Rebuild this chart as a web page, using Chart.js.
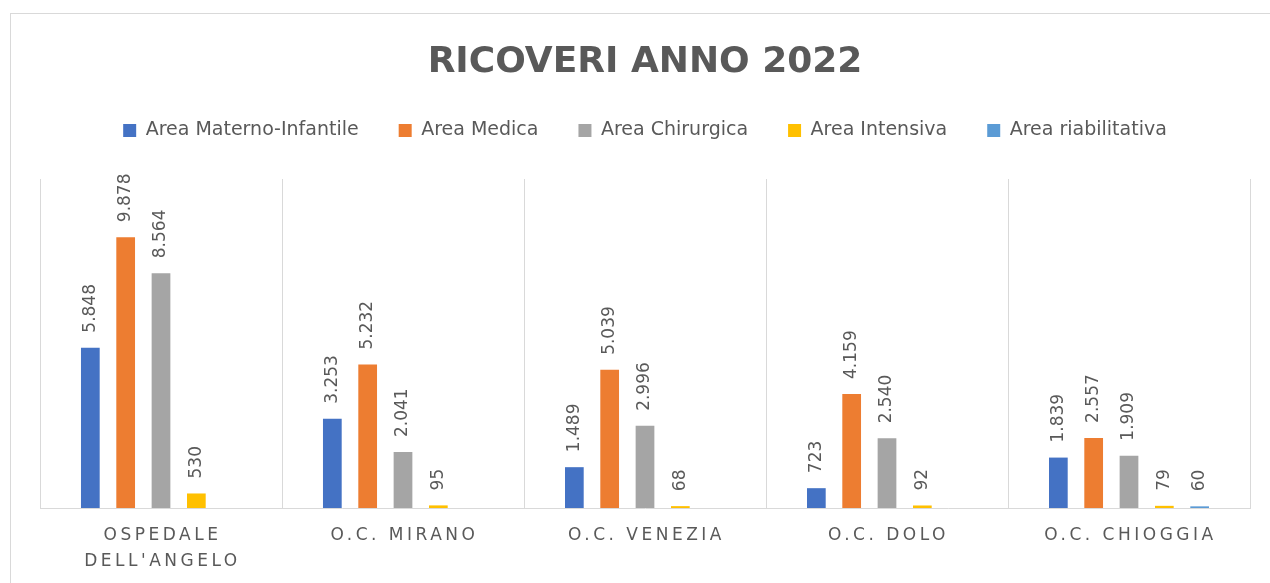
<!DOCTYPE html>
<html>
<head>
<meta charset="utf-8">
<script src="https://cdn.jsdelivr.net/npm/chart.js@4.4.0/dist/chart.umd.min.js"></script>
<style>
  html, body { margin: 0; padding: 0; background: #fff; overflow: hidden; width: 1270px; height: 583px; }
  #frame { position: absolute; left: 10px; top: 13px; width: 1300px; height: 700px; border: 1px solid #d9d9d9; }
  #wrap { position: absolute; left: 0; top: 0; width: 1270px; height: 583px; }
</style>
</head>
<body>
<div id="frame"></div>
<div id="wrap"><canvas id="ricoveri"></canvas></div>
<script>
// categorie (ospedali)
const ospedali = [["OSPEDALE", "DELL'ANGELO"], "O.C. MIRANO", "O.C. VENEZIA", "O.C. DOLO", "O.C. CHIOGGIA"];

// ricoveri per area
const maternoInfantile = [5848, 3253, 1489, 723, 1839];
const medica = [9878, 5232, 5039, 4159, 2557];
const chirurgica = [8564, 2041, 2996, 2540, 1909];
const intensiva = [530, 95, 68, 92, 79];
const riabilitativa = [null, null, null, null, 60];

const grigioTesto = '#595959';

// 5848 -> "5.848"
function formatta(v) {
  return String(v).replace(/\B(?=(\d{3})+(?!\d))/g, '.');
}

// spazio tra legenda e grafico
const spazioLegenda = {
  id: 'spazioLegenda',
  beforeInit(chart) {
    const fitOrig = chart.legend.fit;
    chart.legend.fit = function () {
      fitOrig.bind(chart.legend)();
      this.height += 29;
    };
  }
};

// etichette dati ruotate sopra le barre
const etichetteDati = {
  id: 'etichetteDati',
  afterDatasetsDraw(chart) {
    const ctx = chart.ctx;
    ctx.save();
    ctx.font = '17px "DejaVu Sans"';
    ctx.fillStyle = grigioTesto;
    ctx.textAlign = 'left';
    ctx.textBaseline = 'middle';
    chart.data.datasets.forEach((ds, i) => {
      const meta = chart.getDatasetMeta(i);
      meta.data.forEach((bar, j) => {
        const v = ds.data[j];
        if (v === null || v === undefined) return;
        ctx.save();
        ctx.translate(bar.x, bar.y - 15);
        ctx.rotate(-Math.PI / 2);
        ctx.fillText(formatta(v), 0, 0);
        ctx.restore();
      });
    });
    ctx.restore();
  }
};

// etichette asse x spaziate
const etichetteAsse = {
  id: 'etichetteAsse',
  afterDraw(chart) {
    const ctx = chart.ctx;
    const x = chart.scales.x;
    ctx.save();
    ctx.font = '17px "DejaVu Sans"';
    ctx.fillStyle = grigioTesto;
    ctx.textAlign = 'center';
    ctx.textBaseline = 'middle';
    ctx.letterSpacing = '3.5px';
    ospedali.forEach((lab, i) => {
      const px = x.getPixelForValue(i) + 1.5;
      const righe = Array.isArray(lab) ? lab : [lab];
      righe.forEach((r, k) => {
        ctx.fillText(r, px, x.bottom + 28 + k * 26);
      });
    });
    ctx.restore();
  }
};

const ctx = document.getElementById('ricoveri').getContext('2d');
const grafico = new Chart(ctx, {
  type: 'bar',
  data: {
    labels: ospedali,
    datasets: [
      { label: 'Area Materno-Infantile', data: maternoInfantile, backgroundColor: '#4472C4' },
      { label: 'Area Medica', data: medica, backgroundColor: '#ED7D31' },
      { label: 'Area Chirurgica', data: chirurgica, backgroundColor: '#A5A5A5' },
      { label: 'Area Intensiva', data: intensiva, backgroundColor: '#FFC000' },
      { label: 'Area riabilitativa', data: riabilitativa, backgroundColor: '#5B9BD5' }
    ]
  },
  options: {
    responsive: true,
    maintainAspectRatio: false,
    animation: false,
    layout: { padding: { left: 40, right: 20, top: 0, bottom: 75 } },
    datasets: {
      bar: { categoryPercentage: 0.73, barPercentage: 0.53 }
    },
    plugins: {
      title: {
        display: true,
        text: 'RICOVERI ANNO 2022',
        color: grigioTesto,
        font: { family: '"DejaVu Sans"', size: 36, weight: 'bold', lineHeight: 1 },
        padding: { top: 45, bottom: 0 }
      },
      legend: {
        position: 'top',
        labels: {
          color: grigioTesto,
          font: { family: '"DejaVu Sans"', size: 19 },
          boxWidth: 13,
          boxHeight: 13,
          padding: 40
        }
      },
      tooltip: { enabled: false }
    },
    scales: {
      x: {
        grid: { color: '#d9d9d9', drawTicks: false, offset: true },
        border: { color: '#d9d9d9' },
        ticks: { display: false }
      },
      y: {
        display: false,
        min: 0,
        max: 12000
      }
    }
  },
  plugins: [spazioLegenda, etichetteDati, etichetteAsse]
});
</script>
</body>
</html>
